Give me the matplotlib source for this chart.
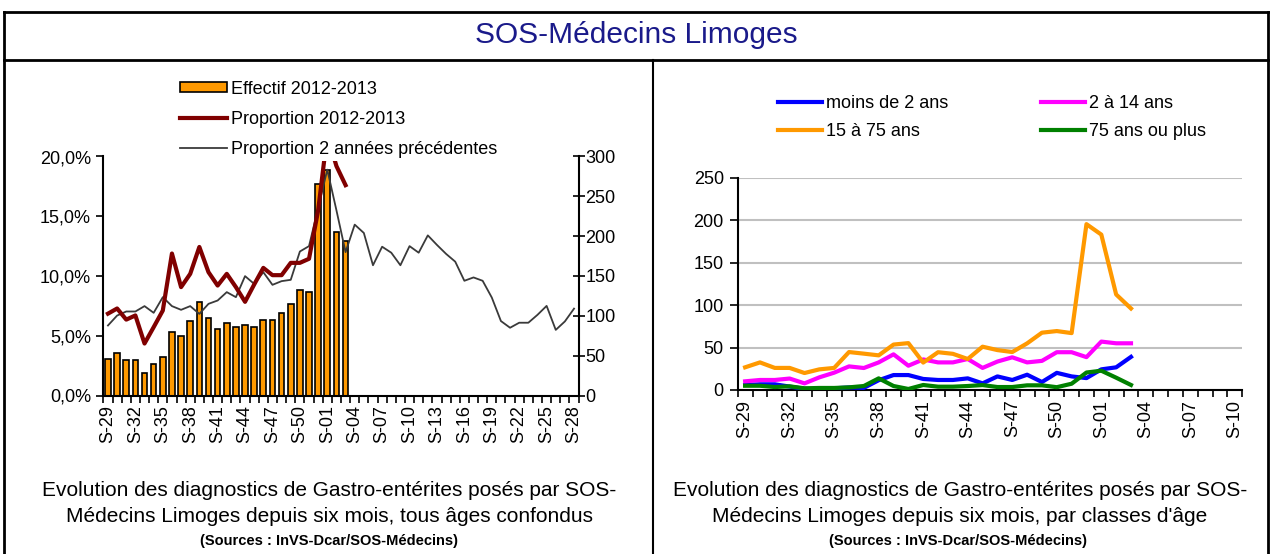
import matplotlib
matplotlib.use("Agg")
import matplotlib.pyplot as plt
from matplotlib.lines import Line2D
from matplotlib.patches import Patch
import numpy as np

plt.rcParams['font.family'] = ['Liberation Sans', 'DejaVu Sans']

# ---------------- data ----------------
weeks_left = ["S-%02d" % w for w in list(range(29, 53)) + list(range(1, 29))]   # 52 weeks
weeks_right = ["S-%02d" % w for w in list(range(29, 53)) + list(range(1, 11))]  # 34 weeks

effectif_2012 = [46, 53, 44, 44, 28, 39, 48, 80, 75, 93, 117, 97, 84, 91, 86, 88, 86,
                 95, 95, 104, 115, 132, 130, 265, 283, 205, 194]
proportion_2012 = [6.85, 7.28, 6.35, 6.7, 4.35, 5.72, 7.11, 11.88, 9.07, 10.18, 12.43, 10.32,
                   9.2, 10.18, 9.07, 7.84, 9.29, 10.68, 10.07, 10.07, 11.1, 11.1, 11.44,
                   15.5, 21.8, 19.2, 17.6]
proportion_prev = [5.86, 6.69, 7.03, 7.03, 7.48, 6.92, 8.23, 7.48, 7.17, 7.48,
                   6.83, 7.67, 7.95, 8.65, 8.23, 9.99, 9.34, 10.32, 9.26, 9.57,
                   9.68, 12.05, 12.5, 15.7, 18.9, 15.5, 12.0, 14.3, 13.6, 10.9,
                   12.45, 11.95, 10.9, 12.5, 11.95, 13.4, 12.6, 11.85, 11.2, 9.6,
                   9.88, 9.6, 8.2, 6.23, 5.67, 6.09, 6.09, 6.75, 7.5, 5.49,
                   6.2, 7.27]

moins_2 = [5.9, 6.7, 6.7, 4.0, 1.5, 1.0, 2.0, 3.0, 2.5, 11.5, 17.6, 17.6, 13.0, 11.8,
           11.8, 13.7, 7.8, 16.0, 11.8, 18.0, 9.4, 20.2, 16.0, 14.0, 24.3, 26.7, 39.0]
de2_14 = [10.2, 11.8, 11.8, 13.5, 7.8, 14.9, 20.4, 27.8, 25.9, 32.5, 42.0, 28.6, 36.0,
          32.5, 32.5, 36.5, 26.0, 33.5, 38.5, 32.5, 34.3, 44.5, 44.5, 38.7, 57.0, 55.0, 55.0]
de15_75 = [26.7, 32.5, 26.0, 26.0, 20.0, 24.3, 26.0, 44.7, 42.8, 40.8, 53.5, 55.2, 32.3,
           44.5, 42.6, 36.5, 51.0, 47.0, 44.7, 54.9, 67.5, 69.4, 67.0, 195.3, 183.0, 112.5, 96.0]
plus_75 = [5.0, 5.0, 3.5, 4.3, 2.0, 2.4, 2.4, 3.1, 4.7, 13.7, 4.7, 1.2, 5.9, 3.9, 3.9,
           4.7, 5.8, 3.5, 3.5, 5.5, 5.5, 3.3, 7.4, 20.6, 22.7, 14.5, 5.9]

left_pct_ticks = [0, 5, 10, 15, 20]
left_pct_labels = ["0,0%", "5,0%", "10,0%", "15,0%", "20,0%"]
right_count_ticks = [0, 50, 100, 150, 200, 250, 300]
right_chart_ticks = [0, 50, 100, 150, 200, 250]

# ---------------- figure ----------------
W, H = 1271, 554
fig = plt.figure(figsize=(W / 100, H / 100), dpi=100)
fig.patch.set_facecolor('white')


def rect(x0, y0, x1, y1):
    """pixel box (top-left origin) -> figure fraction [l, b, w, h]"""
    return [x0 / W, 1 - y1 / H, (x1 - x0) / W, (y1 - y0) / H]


def fx(x):
    return x / W


def fy(y):
    return 1 - y / H


# frame lines
for (x0, y0, x1, y1, lw) in [(4, 12, 1268, 12, 2.0), (4, 12, 4, 554, 2.0),
                             (1268, 12, 1268, 554, 2.0), (4, 60, 1268, 60, 2.0),
                             (653, 60, 653, 554, 1.5)]:
    fig.add_artist(Line2D([fx(x0), fx(x1)], [fy(y0), fy(y1)], color='black', lw=lw,
                          transform=fig.transFigure))

fig.text(fx(636), fy(35), "SOS-Médecins Limoges", ha='center', va='center',
         fontsize=21.5, color='#1a1a8a')

cap_kw = dict(ha='center', va='center', color='black')
fig.text(fx(329), fy(490), "Evolution des diagnostics de Gastro-entérites posés par SOS-", fontsize=15, **cap_kw)
fig.text(fx(329), fy(516), "Médecins Limoges depuis six mois, tous âges confondus", fontsize=15, **cap_kw)
fig.text(fx(329), fy(541), "(Sources : InVS-Dcar/SOS-Médecins)", fontsize=10.5, weight='bold', **cap_kw)
fig.text(fx(960), fy(490), "Evolution des diagnostics de Gastro-entérites posés par SOS-", fontsize=15, **cap_kw)
fig.text(fx(960), fy(516), "Médecins Limoges depuis six mois, par classes d'âge", fontsize=15, **cap_kw)
fig.text(fx(958), fy(541), "(Sources : InVS-Dcar/SOS-Médecins)", fontsize=10.5, weight='bold', **cap_kw)

# ---------------- left chart ----------------
axb = fig.add_axes(rect(103.4, 156.5, 578.6, 395.5))
xl = np.arange(len(weeks_left))
xb = np.arange(len(effectif_2012))
axb.bar(xb, effectif_2012, width=0.62, color='#ff9900', edgecolor='black', linewidth=1.2, zorder=2)
axb.set_xlim(-0.5, len(weeks_left) - 0.5)
axb.set_ylim(0, 300)

axl = axb.twinx()   # lines axis (percent), drawn above the bars
axb.yaxis.tick_right()
axb.yaxis.set_label_position('right')
axl.yaxis.tick_left()
axl.yaxis.set_label_position('left')

axb.set_yticks(right_count_ticks)
axb.tick_params(axis='y', which='both', direction='inout', length=9, width=1.2, labelsize=13, pad=0.5,
                left=False, labelleft=False, right=True, labelright=True)
axb.set_xticks(xl[::3])
axb.set_xticklabels(weeks_left[::3], rotation=90)
axb.set_xticks(np.arange(-0.5, len(weeks_left), 1.0), minor=True)
axb.tick_params(axis='x', which='major', length=0, labelsize=13, pad=7)
axb.tick_params(axis='x', which='minor', direction='out', length=5, width=1.2)
for s in ['top', 'left']:
    axb.spines[s].set_visible(False)
axb.spines['right'].set_linewidth(1.5)
axb.spines['bottom'].set_linewidth(1.5)

l_prev, = axl.plot(np.arange(len(proportion_prev)), proportion_prev, color='#3a3a3a', lw=1.3, zorder=3)
l_2012, = axl.plot(np.arange(len(proportion_2012)), proportion_2012, color='#800000', lw=3.0,
                   zorder=4, clip_on=False)
axl.set_ylim(0, 20)
axl.set_xlim(-0.5, len(weeks_left) - 0.5)
axl.set_yticks(left_pct_ticks)
axl.set_yticklabels(left_pct_labels)
axl.tick_params(axis='y', direction='out', length=5, width=1.2, labelsize=13, pad=4,
                right=False, labelright=False, left=True, labelleft=True)
axl.spines['top'].set_visible(False)
axl.spines['right'].set_visible(False)
axl.spines['left'].set_linewidth(1.5)
axl.spines['bottom'].set_visible(False)
axl.patch.set_visible(False)

leg_handles = [Patch(facecolor='#ff9900', edgecolor='black', linewidth=1.2), l_2012, l_prev]
leg = axl.legend(leg_handles, ["Effectif 2012-2013", "Proportion 2012-2013",
                               "Proportion 2 années précédentes"],
                 loc='upper left', bbox_to_anchor=(fx(176), fy(77)), bbox_transform=fig.transFigure,
                 frameon=True, fontsize=13, handlelength=2.65, handleheight=0.5,
                 handletextpad=0.22, labelspacing=0.72, borderpad=0.2, borderaxespad=0,
                 fancybox=False)
leg.get_frame().set_facecolor('white')
leg.get_frame().set_edgecolor('none')
leg.get_frame().set_alpha(1)
leg.set_zorder(10)

# ---------------- right chart ----------------
axr = fig.add_axes(rect(737.7, 177.7, 1242.3, 390))
xr = np.arange(len(moins_2))
lb, = axr.plot(xr, moins_2, color='#0000ff', lw=3.0, zorder=3)
lm, = axr.plot(xr, de2_14, color='#ff00ff', lw=3.0, zorder=3)
lo, = axr.plot(xr, de15_75, color='#ff9900', lw=3.0, zorder=3)
lg, = axr.plot(xr, plus_75, color='#008000', lw=3.0, zorder=4)
axr.set_xlim(-0.5, len(weeks_right) - 0.5)
axr.set_ylim(0, 250)
axr.set_yticks(right_chart_ticks)
axr.yaxis.grid(True, color='#c0c0c0', lw=1.5)
axr.set_axisbelow(True)
axr.tick_params(axis='y', direction='out', length=6, width=1.2, labelsize=13, pad=4)
axr.set_xticks(np.arange(len(weeks_right))[::3])
axr.set_xticklabels(weeks_right[::3], rotation=90)
axr.set_xticks(np.arange(-0.5, len(weeks_right), 1.0), minor=True)
axr.tick_params(axis='x', which='major', length=0, labelsize=13, pad=7)
axr.tick_params(axis='x', which='minor', direction='out', length=5, width=1.2)
for s in ['top', 'right']:
    axr.spines[s].set_visible(False)
axr.spines['left'].set_linewidth(1.5)
axr.spines['bottom'].set_linewidth(1.5)

leg2 = axr.legend([lb, lo, lm, lg], ["moins de 2 ans", "15 à 75 ans", "2 à 14 ans", "75 ans ou plus"],
                  ncol=2, loc='upper left', bbox_to_anchor=(fx(778), fy(95)),
                  bbox_transform=fig.transFigure, frameon=False, fontsize=13,
                  handlelength=2.45, handletextpad=0.22, labelspacing=0.62,
                  columnspacing=5.1, borderpad=0, borderaxespad=0)

fig.savefig("out.png", dpi=100, facecolor='white')
